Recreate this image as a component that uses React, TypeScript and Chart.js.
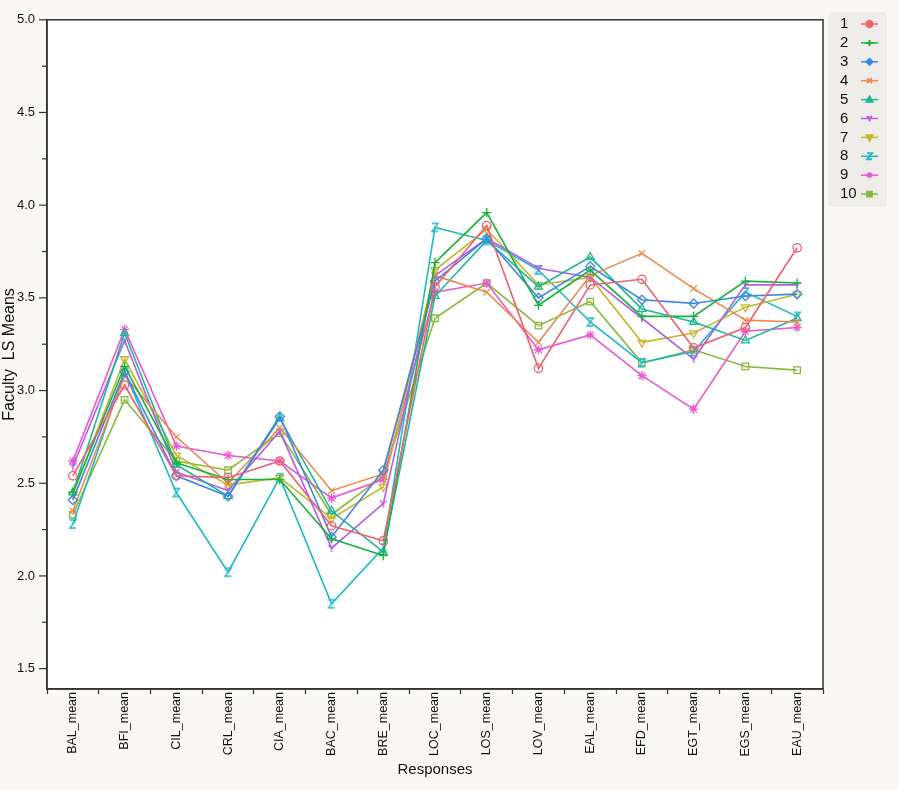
import React, { useEffect, useRef } from "react";
import { Chart, registerables } from "chart.js";

Chart.register(...registerables);

const categories = [
  "BAL_mean", "BFI_mean", "CIL_mean", "CRL_mean", "CIA_mean", "BAC_mean", "BRE_mean",
  "LOC_mean", "LOS_mean", "LOV_mean", "EAL_mean", "EFD_mean", "EGT_mean", "EGS_mean", "EAU_mean",
];

const series1 = [2.54, 3.03, 2.54, 2.53, 2.62, 2.27, 2.19, 3.56, 3.89, 3.12, 3.57, 3.60, 3.23, 3.34, 3.77];
const series2 = [2.45, 3.13, 2.61, 2.52, 2.52, 2.20, 2.11, 3.69, 3.96, 3.46, 3.65, 3.40, 3.40, 3.59, 3.58];
const series3 = [2.41, 3.10, 2.54, 2.43, 2.86, 2.21, 2.57, 3.59, 3.82, 3.50, 3.67, 3.49, 3.47, 3.51, 3.52];
const series4 = [2.35, 3.08, 2.75, 2.50, 2.80, 2.46, 2.55, 3.62, 3.53, 3.26, 3.62, 3.74, 3.55, 3.38, 3.37];
const series5 = [2.45, 3.31, 2.60, 2.43, 2.85, 2.35, 2.13, 3.51, 3.81, 3.56, 3.72, 3.44, 3.37, 3.27, 3.39];
const series6 = [2.59, 3.27, 2.56, 2.46, 2.78, 2.15, 2.39, 3.62, 3.82, 3.66, 3.61, 3.39, 3.17, 3.57, 3.57];
const series7 = [2.44, 3.17, 2.65, 2.49, 2.53, 2.31, 2.48, 3.65, 3.87, 3.57, 3.61, 3.26, 3.31, 3.45, 3.52];
const series8 = [2.28, 3.10, 2.45, 2.02, 2.53, 1.85, 2.15, 3.88, 3.81, 3.65, 3.37, 3.15, 3.21, 3.53, 3.40];
const series9 = [2.62, 3.33, 2.70, 2.65, 2.62, 2.42, 2.52, 3.53, 3.58, 3.22, 3.30, 3.08, 2.90, 3.32, 3.34];
const series10 = [2.33, 2.95, 2.62, 2.57, 2.77, 2.33, 2.54, 3.39, 3.58, 3.35, 3.48, 3.15, 3.22, 3.13, 3.11];

const seriesValues = [series1, series2, series3, series4, series5, series6, series7, series8, series9, series10];
const seriesNames = ["1", "2", "3", "4", "5", "6", "7", "8", "9", "10"];
const seriesColors = [
  "#f0606e", "#17b33a", "#3d86e6", "#ee8a4e", "#19b89a",
  "#b35ee6", "#c3b82c", "#1cb9c9", "#ec57d6", "#8ab83c",
];
const seriesMarkers = ["circle", "cross", "rectRot", "crossRot", "triangle", "yshape", "triangleDown", "zshape", "star", "rect"];

const yMin = 1.39;
const yMax = 5.0;
const yStep = 0.25;

const FONT = "'Liberation Sans', Arial, Helvetica, sans-serif";

function strokeMarker(ctx: CanvasRenderingContext2D, kind: string, x: number, y: number, r: number, color: string, filled: boolean, lw: number) {
  ctx.save();
  ctx.strokeStyle = color;
  ctx.fillStyle = color;
  ctx.lineWidth = lw;
  ctx.beginPath();
  switch (kind) {
    case "circle":
      ctx.arc(x, y, r, 0, Math.PI * 2);
      break;
    case "cross":
      ctx.moveTo(x - r, y); ctx.lineTo(x + r, y);
      ctx.moveTo(x, y - r); ctx.lineTo(x, y + r);
      break;
    case "crossRot": {
      const d = r * 0.8;
      ctx.moveTo(x - d, y - d); ctx.lineTo(x + d, y + d);
      ctx.moveTo(x + d, y - d); ctx.lineTo(x - d, y + d);
      break;
    }
    case "rectRot":
      ctx.moveTo(x, y - r); ctx.lineTo(x + r, y); ctx.lineTo(x, y + r); ctx.lineTo(x - r, y); ctx.closePath();
      break;
    case "triangle":
      ctx.moveTo(x, y - r); ctx.lineTo(x + r * 0.95, y + r * 0.7); ctx.lineTo(x - r * 0.95, y + r * 0.7); ctx.closePath();
      break;
    case "triangleDown":
      ctx.moveTo(x, y + r); ctx.lineTo(x + r * 0.95, y - r * 0.7); ctx.lineTo(x - r * 0.95, y - r * 0.7); ctx.closePath();
      break;
    case "rect":
      ctx.rect(x - r * 0.8, y - r * 0.8, r * 1.6, r * 1.6);
      break;
    case "star": {
      for (let i = 0; i < 3; i++) {
        const a = (Math.PI / 3) * i + Math.PI / 2;
        ctx.moveTo(x + Math.cos(a) * r, y + Math.sin(a) * r);
        ctx.lineTo(x - Math.cos(a) * r, y - Math.sin(a) * r);
      }
      break;
    }
    case "yshape":
      ctx.moveTo(x, y); ctx.lineTo(x - r * 0.85, y - r * 0.8);
      ctx.moveTo(x, y); ctx.lineTo(x + r * 0.85, y - r * 0.8);
      ctx.moveTo(x, y); ctx.lineTo(x, y + r);
      break;
    case "zshape":
      ctx.moveTo(x - r * 0.8, y - r); ctx.lineTo(x + r * 0.8, y - r);
      ctx.lineTo(x - r * 0.8, y + r); ctx.lineTo(x + r * 0.8, y + r);
      break;
  }
  const closed = ["circle", "rectRot", "triangle", "triangleDown", "rect"].includes(kind);
  if (filled && closed) ctx.fill();
  ctx.stroke();
  ctx.restore();
}

function markerCanvas(kind: string, color: string, r: number): HTMLCanvasElement {
  const size = Math.ceil(r * 2 + 4);
  const c = document.createElement("canvas");
  c.width = size;
  c.height = size;
  const ctx = c.getContext("2d");
  if (ctx) strokeMarker(ctx, kind, size / 2, size / 2, r, color, false, 1.3);
  return c;
}

const isMajor = (v: number) => Math.abs(v * 2 - Math.round(v * 2)) < 1e-6;

const framePlugin = {
  id: "frame",
  beforeDraw(chart: any) {
    const { ctx, chartArea: a, width, height } = chart;
    ctx.save();
    ctx.fillStyle = "#faf8f4";
    ctx.fillRect(0, 0, width, height);
    ctx.fillStyle = "#ffffff";
    ctx.fillRect(a.left, a.top, a.right - a.left, a.bottom - a.top);
    ctx.restore();
  },
  afterDraw(chart: any) {
    const { ctx, chartArea: a } = chart;
    ctx.save();
    ctx.strokeStyle = "#333";
    ctx.lineWidth = 1.5;
    ctx.strokeRect(a.left, a.top, a.right - a.left, a.bottom - a.top);
    const ys = chart.scales.y;
    ctx.lineWidth = 1.2;
    ys.ticks.forEach((t: any) => {
      const py = ys.getPixelForValue(t.value);
      const len = isMajor(t.value) ? 8 : 5;
      ctx.beginPath();
      ctx.moveTo(a.left - len, py);
      ctx.lineTo(a.left, py);
      ctx.stroke();
    });
    // legend
    const lx = 828, ly = 12, lw = 59, lh = 195;
    ctx.fillStyle = "#efedea";
    ctx.beginPath();
    const rr = 5;
    ctx.moveTo(lx + rr, ly);
    ctx.lineTo(lx + lw - rr, ly);
    ctx.quadraticCurveTo(lx + lw, ly, lx + lw, ly + rr);
    ctx.lineTo(lx + lw, ly + lh - rr);
    ctx.quadraticCurveTo(lx + lw, ly + lh, lx + lw - rr, ly + lh);
    ctx.lineTo(lx + rr, ly + lh);
    ctx.quadraticCurveTo(lx, ly + lh, lx, ly + lh - rr);
    ctx.lineTo(lx, ly + rr);
    ctx.quadraticCurveTo(lx, ly, lx + rr, ly);
    ctx.fill();
    ctx.font = `15px ${FONT}`;
    ctx.textBaseline = "middle";
    ctx.textAlign = "left";
    seriesNames.forEach((name, i) => {
      const y = 24 + i * 18.9;
      ctx.fillStyle = "#111";
      ctx.fillText(name, 840, y);
      ctx.strokeStyle = seriesColors[i];
      ctx.lineWidth = 1.5;
      ctx.beginPath();
      ctx.moveTo(861, y);
      ctx.lineTo(878, y);
      ctx.stroke();
      strokeMarker(ctx, seriesMarkers[i], 869.5, y, 3, seriesColors[i], true, 2);
    });
    ctx.restore();
  },
};

export default function App() {
  const ref = useRef<HTMLCanvasElement | null>(null);

  useEffect(() => {
    document.body.style.margin = "0";
    const canvas = ref.current;
    if (!canvas) return;
    const datasets = seriesValues.map((vals, i) => {
      const kind = seriesMarkers[i];
      let pointStyle: any = kind;
      let rotation = 0;
      if (kind === "yshape" || kind === "zshape") pointStyle = markerCanvas(kind, seriesColors[i], 4);
      if (kind === "triangleDown") { pointStyle = "triangle"; rotation = 180; }
      return {
        label: seriesNames[i],
        data: vals,
        borderColor: seriesColors[i],
        backgroundColor: seriesColors[i],
        pointBackgroundColor: "rgba(0,0,0,0)",
        pointBorderColor: seriesColors[i],
        pointBorderWidth: 1.3,
        pointStyle,
        pointRotation: rotation,
        pointRadius: kind === "circle" ? 4.2 : 4.6,
        pointHoverRadius: kind === "circle" ? 4.2 : 4.6,
        borderWidth: 1.6,
        tension: 0,
        fill: false,
        clip: false as any,
      };
    });
    const chart = new Chart(canvas, {
      type: "line",
      data: { labels: categories, datasets },
      options: {
        animation: false,
        responsive: false,
        maintainAspectRatio: false,
        events: [],
        layout: { padding: { top: 11, right: 76, bottom: 0, left: 0 } },
        plugins: { legend: { display: false }, tooltip: { enabled: false } },
        scales: {
          x: {
            type: "category",
            offset: true,
            grid: { offset: true, drawOnChartArea: false, drawTicks: true, tickLength: 5, tickColor: "#333", tickWidth: 1.2 } as any,
            border: { display: true, color: "#333", width: 1.5 },
            ticks: {
              autoSkip: false,
              maxRotation: 90,
              minRotation: 90,
              padding: -2,
              color: "#111",
              font: { family: FONT, size: 12.5 },
            },
            title: {
              display: true,
              text: "Responses",
              color: "#111",
              font: { family: FONT, size: 15 },
              padding: { top: 0, bottom: 11 },
            },
            afterFit: (s: any) => { s.height = 101; },
          },
          y: {
            type: "linear",
            min: yMin,
            max: yMax,
            grid: { display: true, drawOnChartArea: false, drawTicks: false } as any,
            border: { display: true, color: "#333", width: 1.5 },
            ticks: {
              stepSize: yStep,
              includeBounds: false,
              autoSkip: false,
              padding: 12,
              color: "#111",
              font: { family: FONT, size: 13 },
              callback: (v: any) => (isMajor(Number(v)) ? Number(v).toFixed(1) : ""),
            },
            title: {
              display: true,
              text: "Faculty  LS Means",
              color: "#111",
              font: { family: FONT, size: 16 },
              padding: { top: 0, bottom: 0 },
            },
            afterFit: (s: any) => { s.width = 47; },
          },
        },
      },
      plugins: [framePlugin],
    });
    return () => chart.destroy();
  }, []);

  return (
    <div style={{ width: 899, height: 790, background: "#faf8f4" }}>
      <canvas ref={ref} width={899} height={790} style={{ display: "block", width: 899, height: 790 }} />
    </div>
  );
}
